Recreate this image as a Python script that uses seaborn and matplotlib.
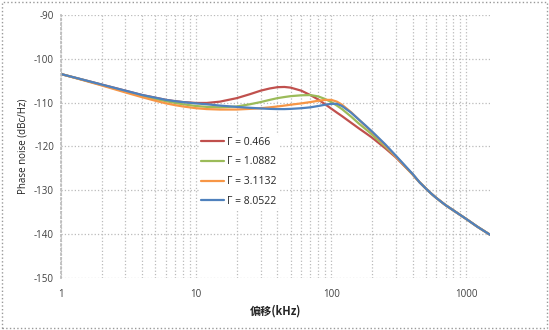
import numpy as np
import pandas as pd
import seaborn as sns
import matplotlib.pyplot as plt
from matplotlib.patches import Rectangle
from matplotlib.ticker import LogLocator, FixedLocator, NullFormatter

offset_khz = [1, 1.5, 2, 3, 4, 5, 6, 7, 8, 10, 12, 15, 20, 25, 30, 35, 40, 45, 50, 60, 70, 80, 90,
              100, 110, 120, 140, 160, 180, 200, 250, 300, 400, 450, 500, 550, 600, 700, 800, 1000, 1200, 1500]
pn_0466 = [-103.5, -104.9, -105.9, -107.3, -108.3, -108.9, -109.4, -109.7, -109.9, -110.1, -110.1, -109.8,
           -109.0, -108.1, -107.3, -106.8, -106.5, -106.45, -106.6, -107.3, -108.3, -109.3, -110.4,
           -111.4, -112.3, -113.1, -114.6, -115.9, -117.0, -118.0, -120.4, -122.5, -126.4, -128.2, -129.6,
           -130.8, -131.8, -133.4, -134.6, -136.6, -138.3, -140.2]
pn_10882 = [-103.5, -104.95, -106.0, -107.5, -108.5, -109.2, -109.7, -110.1, -110.4, -110.8, -111.0, -111.1,
            -110.9, -110.4, -109.9, -109.4, -109.0, -108.75, -108.55, -108.35, -108.3, -108.6, -109.2,
            -109.9, -110.7, -111.5, -113.2, -114.8, -116.1, -117.3, -120.0, -122.3, -126.4, -128.2, -129.6,
            -130.8, -131.8, -133.4, -134.6, -136.6, -138.3, -140.2]
pn_31132 = [-103.5, -105.0, -106.1, -107.7, -108.8, -109.6, -110.2, -110.6, -110.9, -111.3, -111.5, -111.6,
            -111.6, -111.45, -111.3, -111.1, -110.9, -110.7, -110.5, -110.2, -109.9, -109.6, -109.4,
            -109.4, -109.8, -110.5, -112.2, -113.9, -115.4, -116.7, -119.7, -122.3, -126.4, -128.2, -129.6,
            -130.8, -131.8, -133.4, -134.6, -136.6, -138.3, -140.2]
pn_80522 = [-103.5, -104.9, -105.9, -107.3, -108.3, -108.9, -109.4, -109.7, -109.9, -110.2, -110.4, -110.7,
            -111.0, -111.2, -111.35, -111.45, -111.5, -111.5, -111.45, -111.3, -111.1, -110.8, -110.5,
            -110.3, -110.3, -110.8, -112.3, -113.9, -115.3, -116.6, -119.5, -122.1, -126.3, -128.2, -129.6,
            -130.8, -131.8, -133.4, -134.6, -136.6, -138.3, -140.2]
series_labels = ["Γ = 0.466", "Γ = 1.0882", "Γ = 3.1132", "Γ = 8.0522"]
colors = ["#C0504D", "#9BBB59", "#F79646", "#4F81BD"]
x_ticks = [1, 10, 100, 1000]
x_tick_labels = ["1", "10", "100", "1000"]

frames = []
for lab, vals in zip(series_labels, [pn_0466, pn_10882, pn_31132, pn_80522]):
    frames.append(pd.DataFrame({"offset": offset_khz, "pn": vals, "series": lab}))
df = pd.concat(frames, ignore_index=True)

sns.set_theme(style="white")
plt.rcParams['font.family'] = ['Open Sans', 'DejaVu Sans']
plt.rcParams['axes.unicode_minus'] = False

fig = plt.figure(figsize=(5.49, 3.30), dpi=100)
ax = fig.add_axes([0.111, 0.158, 0.782, 0.797])

sns.lineplot(data=df, x="offset", y="pn", hue="series", palette=colors, ax=ax,
             linewidth=1.6, legend=True)
ax.set_xscale("log")
ax.set_xlim(1, 1500)
ax.set_ylim(-150, -90)
ax.set_yticks(np.arange(-150, -89, 10))
ax.xaxis.set_major_locator(FixedLocator(x_ticks))
ax.set_xticklabels(x_tick_labels)
ax.xaxis.set_minor_locator(LogLocator(base=10, subs=np.arange(2, 10)))
ax.xaxis.set_minor_formatter(NullFormatter())

ax.grid(True, which="major", color="#BBBBBB", linestyle=":", linewidth=0.9)
ax.grid(True, which="minor", axis="x", color="#BBBBBB", linestyle=":", linewidth=0.9)
for s in ax.spines.values():
    s.set_visible(False)
ax.spines["left"].set_visible(True)
ax.spines["left"].set_color("#BBBBBB")
ax.spines["left"].set_linestyle(":")
ax.tick_params(axis="both", which="both", labelsize=7, colors="#404040", length=0)
ax.tick_params(axis="x", which="both", pad=8)
ax.tick_params(axis="y", which="both", pad=5)

ax.set_xlabel("偏移(kHz)", fontsize=8, fontweight="bold",
              family=['Noto Sans CJK SC', 'DejaVu Sans'], labelpad=3)
ax.set_ylabel("Phase noise (dBc/Hz)", fontsize=7, color="#202020", labelpad=4)

leg = ax.legend(loc="upper left", bbox_to_anchor=(0.31, 0.565), frameon=True,
                facecolor="white", edgecolor="none", framealpha=1, fontsize=7.5,
                handlelength=2.2, labelspacing=0.85, borderpad=0.2, handletextpad=0.3)
for line in leg.get_lines():
    line.set_linewidth(1.6)

fig.patches.append(Rectangle((0.004, 0.006), 0.992, 0.988, transform=fig.transFigure,
                             fill=False, edgecolor="#999999", linestyle=":", linewidth=1.0))

fig.savefig("out.png", dpi=100)
